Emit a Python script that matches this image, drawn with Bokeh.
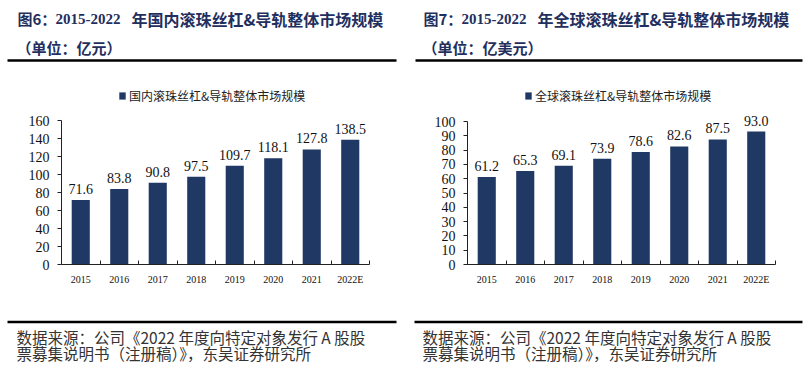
from bokeh.plotting import figure
from bokeh.layouts import row
from bokeh.models import (ColumnDataSource, Range1d, FixedTicker, SingleIntervalTicker,
                          LabelSet, Label, BoxAnnotation, Legend, LegendItem, LinearAxis)
from bokeh.core.properties import value
from bokeh.embed import file_html
from bokeh.resources import INLINE

# ---- data ----
categories = ["2015", "2016", "2017", "2018", "2019", "2020", "2021", "2022E"]
domestic = [71.6, 83.8, 90.8, 97.5, 109.7, 118.1, 127.8, 138.5]
global_mkt = [61.2, 65.3, 69.1, 73.9, 78.6, 82.6, 87.5, 93.0]
left_y_max, left_y_step = 160, 20
right_y_max, right_y_step = 100, 10

left_title = ["图6：", "2015-2022", "年国内滚珠丝杠&导轨整体市场规模"]
left_unit = "（单位：亿元）"
left_legend = "国内滚珠丝杠&导轨整体市场规模"
right_title = ["图7：", "2015-2022", "年全球滚珠丝杠&导轨整体市场规模"]
right_unit = "（单位：亿美元）"
right_legend = "全球滚珠丝杠&导轨整体市场规模"
source_1 = "数据来源：公司《2022 年度向特定对象发行 A 股股"
source_2 = "票募集说明书（注册稿）》，东吴证券研究所"

BAR = "#203864"
TITLE_C = "#1F2F5E"
CJK = "Noto Sans CJK SC"
SERIF = "Liberation Serif"
PAGE_TOP = 1
FIG_H = 381


def make_panel(vals, ymax, ystep, title, unit, legend_text, fig_x0, fw, fl, fr, fb, ft,
               tx, rule_top, rule_bot):
    n = len(categories)
    cw = (fr - fl) / n
    ky = (fb - ft) / ymax
    fig_bottom = PAGE_TOP + FIG_H

    def sx(px):
        return px - fig_x0

    def sy(py):
        return fig_bottom - py

    xs = list(range(n))
    src = ColumnDataSource(dict(x=xs, top=vals, lab=[f"{v:.1f}" for v in vals]))

    p = figure(width=fw, height=FIG_H,
               x_range=Range1d((fig_x0 - fl) / cw - 0.5, (fig_x0 + fw - fl) / cw - 0.5),
               y_range=Range1d((fb - fig_bottom) / ky, (fb - PAGE_TOP) / ky),
               output_backend="svg", toolbar_location=None,
               x_axis_location=None, y_axis_location=None,
               min_border=0)
    p.outline_line_color = None
    p.xgrid.visible = False
    p.ygrid.visible = False
    p.background_fill_color = "white"
    p.border_fill_color = "white"

    r = p.vbar(x="x", top="top", width=0.47, source=src, fill_color=BAR, line_color=None)

    p.add_layout(LabelSet(x="x", y="top", text="lab", source=src, text_align="center",
                          text_baseline="bottom", y_offset=6,
                          text_font=value(SERIF), text_font_size="14px", text_color="#111"))

    # x axis
    xa = LinearAxis(fixed_location=0, bounds=(-0.5, n - 0.5))
    xa.ticker = FixedTicker(ticks=xs, minor_ticks=[i - 0.5 for i in range(n + 1)])
    xa.major_label_overrides = {i: c for i, c in enumerate(categories)}
    xa.major_tick_line_color = None
    xa.minor_tick_in = 4
    xa.minor_tick_out = 0
    xa.minor_tick_line_color = "#222"
    xa.axis_line_color = "#222"
    xa.major_label_text_font = SERIF
    xa.major_label_text_font_size = "10px"
    xa.major_label_standoff = 3
    xa.major_label_text_color = "#111"
    p.add_layout(xa, "below")

    ya = LinearAxis(fixed_location=-0.5, bounds=(0, ymax))
    ya.ticker = SingleIntervalTicker(interval=ystep, num_minor_ticks=0)
    ya.major_tick_out = 4
    ya.major_tick_in = 0
    ya.major_tick_line_color = "#222"
    ya.minor_tick_line_color = None
    ya.axis_line_color = "#222"
    ya.major_label_text_font = SERIF
    ya.major_label_text_font_size = "14px"
    ya.major_label_standoff = 8
    ya.major_label_text_color = "#111"
    p.add_layout(ya, "left")

    # legend
    leg = Legend(items=[LegendItem(label=legend_text, renderers=[r])],
                 location=(sx(fl + 57), sy(105)),
                 orientation="horizontal", glyph_width=8, glyph_height=9,
                 label_height=14, label_standoff=3, padding=0, margin=0, spacing=0,
                 border_line_color=None, background_fill_alpha=0,
                 label_text_font=CJK, label_text_font_size="12px", label_text_color="#222")
    p.add_layout(leg, "center")

    # titles
    seg_x = [tx, tx + 38, tx + 114]
    fonts = [CJK, SERIF, CJK]
    sizes = ["15px", "15px", "16px"]
    for t, xx, f, s in zip(title, seg_x, fonts, sizes):
        p.add_layout(Label(x=sx(xx), y=sy(19), x_units="screen", y_units="screen", text=t,
                           text_font=f, text_font_size=s, text_font_style="bold",
                           text_color=TITLE_C, text_baseline="middle", text_align="left"))
    p.add_layout(Label(x=sx(tx - 1), y=sy(48), x_units="screen", y_units="screen", text=unit,
                       text_font=CJK, text_font_size="15px", text_font_style="bold",
                       text_color=TITLE_C, text_baseline="middle", text_align="left"))

    # rules
    for (x0, x1, yc) in [(rule_top[0], rule_top[1], 61), (rule_bot[0], rule_bot[1], 322.5)]:
        p.add_layout(BoxAnnotation(left=sx(x0), right=sx(x1), top=sy(yc - 1.2), bottom=sy(yc + 1.2),
                                   left_units="screen", right_units="screen",
                                   top_units="screen", bottom_units="screen",
                                   fill_color="black", fill_alpha=1, line_color=None,
                                   level="overlay"))

    # source
    for t, yy in [(source_1, 337), (source_2, 353)]:
        p.add_layout(Label(x=sx(tx - 1), y=sy(yy), x_units="screen", y_units="screen", text=t,
                           text_font=CJK, text_font_size="15.5px", text_color="#333",
                           text_baseline="middle", text_align="left"))
    return p


p1 = make_panel(domestic, left_y_max, left_y_step, left_title, left_unit, left_legend,
                fig_x0=1, fw=403, fl=62, fr=370, fb=265, ft=121, tx=18,
                rule_top=(8, 397), rule_bot=(8, 397))
p2 = make_panel(global_mkt, right_y_max, right_y_step, right_title, right_unit, right_legend,
                fig_x0=404, fw=404, fl=468, fr=776, fb=265, ft=122, tx=424,
                rule_top=(416, 803), rule_bot=(415, 803))

layout = row(p1, p2)
open("out.html", "w").write(file_html(layout, INLINE))
